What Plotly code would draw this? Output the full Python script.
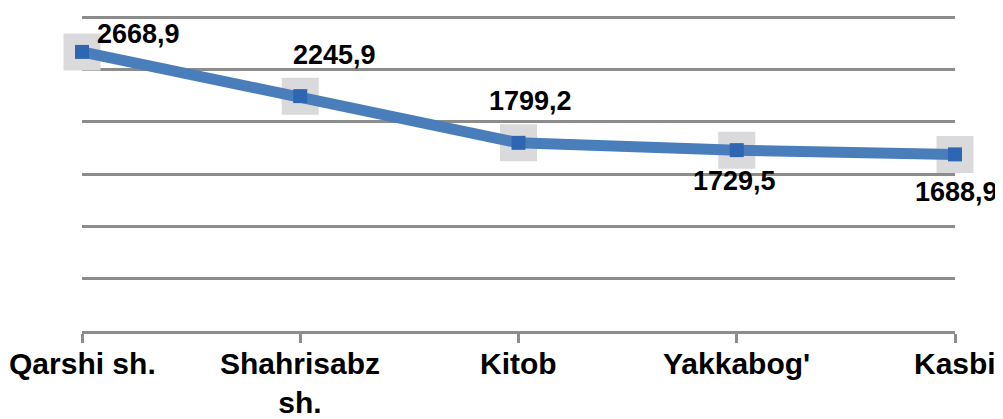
import plotly.graph_objects as go

categories = ["Qarshi sh.", "Shahrisabz<br>sh.", "Kitob", "Yakkabog'", "Kasbi"]
values = [2668.9, 2245.9, 1799.2, 1729.5, 1688.9]
labels = ["2668,9", "2245,9", "1799,2", "1729,5", "1688,9"]
# label offsets in pixels (x, y)
label_shift_x = [56, 34, 12, -2, 1]
label_shift_y = [18, 41, 42, -31, -38]

x_idx = list(range(len(categories)))

fig = go.Figure()
# light gray square behind each point
fig.add_trace(go.Scatter(
    x=x_idx, y=values, mode="markers",
    marker=dict(symbol="square", size=37, color="#DADADC", line=dict(width=0)),
    hoverinfo="skip", showlegend=False, cliponaxis=False,
))
fig.add_trace(go.Scatter(
    x=x_idx, y=values, mode="lines+markers",
    line=dict(color="#4A7EBB", width=11),
    marker=dict(symbol="square", size=14, color="#2E66B2", line=dict(width=0)),
    showlegend=False, cliponaxis=False,
))

for xi, v, t, sx, sy in zip(x_idx, values, labels, label_shift_x, label_shift_y):
    fig.add_annotation(x=xi, y=v, text="<b>%s</b>" % t, showarrow=False,
                       xshift=sx, yshift=sy,
                       font=dict(family="Liberation Sans, Arial", size=27, color="#000000"))

# category labels under the axis
for xi, c in zip(x_idx, categories):
    fig.add_annotation(x=xi, y=0, xref="x", yref="paper", yanchor="top",
                       text="<b>%s</b>" % c, showarrow=False, align="center",
                       yshift=-14,
                       font=dict(family="Liberation Sans, Arial", size=30, color="#000000"))

fig.update_layout(
    width=1003, height=419,
    margin=dict(l=74, r=56, t=3, b=96, autoexpand=False),
    paper_bgcolor="white", plot_bgcolor="white",
    xaxis=dict(
        range=[0, 4], tickmode="array", tickvals=x_idx,
        showticklabels=False,
        showgrid=False, zeroline=False, automargin=False,
        showline=True, linecolor="#8C8C8C", linewidth=3,
        ticks="outside", ticklen=9, tickwidth=3, tickcolor="#8C8C8C",
        fixedrange=True,
    ),
    yaxis=dict(
        range=[0, 3060], tickmode="array", tickvals=[500, 1000, 1500, 2000, 2500, 3000],
        showticklabels=False, automargin=False,
        showgrid=True, gridcolor="#8C8C8C", gridwidth=3,
        zeroline=False, showline=False, ticks="",
        fixedrange=True,
    ),
)

fig.write_html("out.html")
